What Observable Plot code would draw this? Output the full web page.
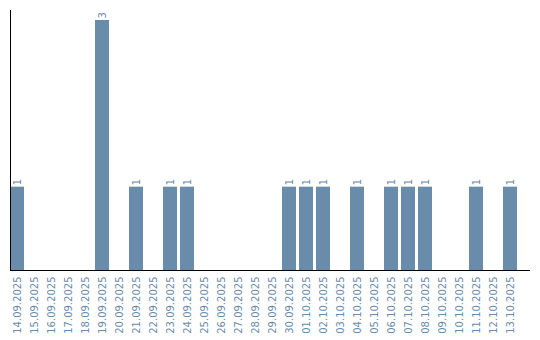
<!DOCTYPE html>
<html>
<head>
<meta charset="utf-8">
<script src="https://cdn.jsdelivr.net/npm/d3@7"></script>
<script src="https://cdn.jsdelivr.net/npm/@observablehq/plot@0.6"></script>
<style>
  html, body { margin: 0; padding: 0; background: #fff; }
</style>
</head>
<body>
<div id="chart"></div>
<script>
const dates = ["14.09.2025","15.09.2025","16.09.2025","17.09.2025","18.09.2025","19.09.2025","20.09.2025","21.09.2025","22.09.2025","23.09.2025","24.09.2025","25.09.2025","26.09.2025","27.09.2025","28.09.2025","29.09.2025","30.09.2025","01.10.2025","02.10.2025","03.10.2025","04.10.2025","05.10.2025","06.10.2025","07.10.2025","08.10.2025","09.10.2025","10.10.2025","11.10.2025","12.10.2025","13.10.2025"];
const counts = [1,0,0,0,0,3,0,1,0,1,1,0,0,0,0,0,1,1,1,0,1,0,1,1,1,0,0,1,0,1];

const data = dates.map((d, i) => ({date: d, count: counts[i]}));
const nonzero = data.filter(d => d.count > 0);
const barColor = "#6a8cab";
const textColor = "#6a8cab";

const chart = Plot.plot({
  width: 540,
  height: 340,
  marginLeft: 10,
  marginRight: 10,
  marginTop: 10,
  marginBottom: 70,
  style: {fontFamily: "DejaVu Sans", fontSize: "10px", background: "#fff"},
  x: {domain: dates, paddingInner: 0.176, paddingOuter: 0.382, align: 0, label: null},
  y: {domain: [0, 3.12], axis: null},
  marks: [
    Plot.barY(nonzero, {x: "date", y: "count", fill: barColor}),
    Plot.text(nonzero, {x: "date", y: "count", text: d => String(d.count), rotate: -90, textAnchor: "start", dy: -2, fill: textColor, fontSize: 10}),
    Plot.axisX({tickRotate: -90, tickSize: 0, tickPadding: 6, fill: textColor, fontSize: 10, label: null}),
    Plot.frame({anchor: "left", stroke: "#000"}),
    Plot.ruleY([0], {stroke: "#000"})
  ]
});
document.getElementById("chart").appendChild(chart);
</script>
</body>
</html>
